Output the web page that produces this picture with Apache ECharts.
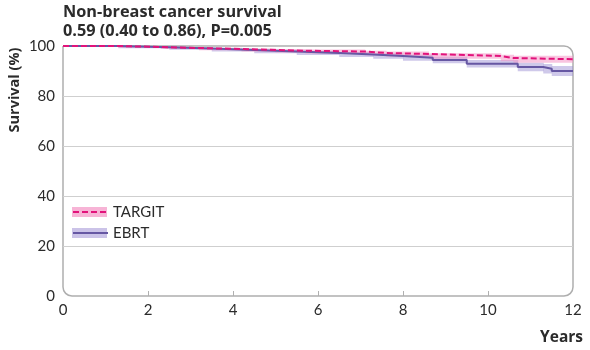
<!DOCTYPE html>
<html>
<head>
<meta charset="utf-8">
<script src="https://cdn.jsdelivr.net/npm/echarts@6/dist/echarts.min.js"></script>
<style>html,body{margin:0;padding:0;background:#fff}#c{width:590px;height:350px}</style>
</head>
<body>
<div id="c"></div>
<script>
// Kaplan-Meier estimates
const targitYears = [0, 1.3, 2.3, 3.2, 4.2, 5.0, 5.7, 7.1, 7.6, 8.6, 10.3, 10.6, 12];
const targitSurv  = [100, 99.6, 99.2, 98.8, 98.4, 98.1, 97.8, 97.2, 96.8, 96.0, 95.2, 94.7, 94.7];
const targitLow   = [100, 99.3, 98.8, 98.3, 97.8, 97.4, 97.0, 96.3, 95.8, 94.9, 93.9, 93.3, 93.3];
const targitHigh  = [100, 99.9, 99.6, 99.3, 99.0, 98.8, 98.6, 98.1, 97.8, 97.1, 96.5, 96.1, 96.1];

const ebrtYears = [0, 1.3, 2.5, 3.5, 4.5, 5.5, 6.5, 7.3, 8.0, 8.7, 9.5, 10.7, 11.3, 11.5, 12];
const ebrtSurv  = [100, 99.5, 99.0, 98.4, 97.8, 97.2, 96.6, 96.0, 95.3, 94.4, 92.9, 91.6, 90.9, 90.0, 90.0];
const ebrtLow   = [100, 99.1, 98.5, 97.8, 97.1, 96.4, 95.6, 94.9, 94.1, 93.1, 91.4, 89.9, 89.0, 88.0, 88.0];
const ebrtHigh  = [100, 99.9, 99.5, 99.0, 98.5, 98.0, 97.6, 97.1, 96.5, 95.7, 94.4, 93.3, 92.8, 92.0, 92.0];

const xTicks = [0, 2, 4, 6, 8, 10, 12];
const yTicks = [0, 20, 40, 60, 80, 100];
const titleLines = ['Non-breast cancer survival', '0.59 (0.40 to 0.86), P=0.005'];
const groupNames = ['TARGIT', 'EBRT'];

const pts = (xs, ys) => xs.map((x, i) => [x, ys[i]]);
// one band cell per KM interval: [start, end, lower, upper]
const cells = (xs, lo, hi) => xs.slice(0, -1).map((x, i) => [x, xs[i + 1], lo[i], hi[i]]);

const G = {left: 63, top: 46, right: 17, bottom: 54};
const W = 590, H = 350;
const FONT = 'Lato';
const BFONT = 'Open Sans';
const TXT = '#2b2b2b';
const PINK = '#e2137b', PINKBAND = 'rgba(244,150,198,0.55)', PINKLEG = '#f7b4d6';
const PURP = '#6657a3', PURPBAND = 'rgba(160,148,214,0.5)', PURPLEG = '#cbc3e8';

function bandItem(color) {
  return function (params, api) {
    const p1 = api.coord([api.value(0), api.value(3)]);
    const p2 = api.coord([api.value(1), api.value(2)]);
    const rect = echarts.graphic.clipRectByRect(
      {x: p1[0], y: p1[1], width: p2[0] - p1[0] + 0.5, height: p2[1] - p1[1]},
      params.coordSys);
    return rect && {type: 'rect', shape: rect, style: {fill: color}};
  };
}

const legendCommon = {
  orient: 'vertical', left: 72, top: 203, padding: 0,
  itemWidth: 35, itemHeight: 10, itemGap: 3, selectedMode: false
};

const chart = echarts.init(document.getElementById('c'), null, {renderer: 'canvas'});
chart.setOption({
  animation: false,
  grid: {left: G.left, top: G.top, right: G.right, bottom: G.bottom},
  xAxis: {
    type: 'value', min: 0, max: 12, interval: 2,
    axisLine: {show: false},
    axisTick: {show: true, inside: true, length: 5, customValues: xTicks.slice(1, -1),
      lineStyle: {color: '#b0b0b0', width: 1}},
    axisLabel: {fontFamily: FONT, fontSize: 15, color: TXT, margin: 7, customValues: xTicks},
    splitLine: {show: false}
  },
  yAxis: {
    type: 'value', min: 0, max: 100, interval: 20,
    axisLine: {show: false}, axisTick: {show: false},
    axisLabel: {fontFamily: FONT, fontSize: 15, color: TXT, margin: 8, customValues: yTicks},
    splitLine: {show: true, lineStyle: {color: '#cfcfcf', width: 1},
      showMinLine: false, showMaxLine: false}
  },
  legend: [
    Object.assign({}, legendCommon, {
      icon: 'rect', z: 1,
      data: [
        {name: 'TARGIT CI', itemStyle: {color: PINKLEG}},
        {name: 'EBRT CI', itemStyle: {color: PURPLEG}}
      ],
      formatter: n => n.replace(' CI', ''),
      textStyle: {fontFamily: FONT, fontSize: 15, lineHeight: 18, color: 'rgba(0,0,0,0)'}
    }),
    Object.assign({}, legendCommon, {
      z: 5,
      itemStyle: {opacity: 0},
      data: groupNames,
      textStyle: {fontFamily: FONT, fontSize: 15, lineHeight: 18, color: TXT}
    })
  ],
  series: [
    {name: 'EBRT CI', type: 'custom', color: PURPLEG, silent: true, z: 1,
      renderItem: bandItem(PURPBAND), data: cells(ebrtYears, ebrtLow, ebrtHigh)},
    {name: 'TARGIT CI', type: 'custom', color: PINKLEG, silent: true, z: 1,
      renderItem: bandItem(PINKBAND), data: cells(targitYears, targitLow, targitHigh)},
    {name: 'EBRT', type: 'line', step: 'end', symbol: 'none', color: PURP,
      data: pts(ebrtYears, ebrtSurv), lineStyle: {color: PURP, width: 2}, z: 3},
    {name: 'TARGIT', type: 'line', step: 'end', symbol: 'none', color: PINK,
      data: pts(targitYears, targitSurv),
      lineStyle: {color: PINK, width: 2, type: [6, 3]}, z: 4}
  ],
  graphic: [
    {type: 'rect', z: -1, silent: true,
      shape: {x: G.left, y: G.top, width: W - G.left - G.right, height: H - G.top - G.bottom, r: [0, 9, 9, 9]},
      style: {fill: 'none', stroke: '#aeaeae', lineWidth: 1.5}},
    {type: 'text', left: 63, top: 3, silent: true,
      style: {text: titleLines.join('\n'), font: 'bold 16.3px "' + BFONT + '"', fill: TXT, lineHeight: 19}},
    {type: 'text', silent: true, x: 7, y: 90, rotation: Math.PI / 2, originX: 0, originY: 0,
      style: {text: 'Survival (%)', font: 'bold 14.5px "' + BFONT + '"', fill: TXT, align: 'center', verticalAlign: 'top'}},
    {type: 'text', silent: true, right: 7, top: 330,
      style: {text: 'Years', font: 'bold 15.5px "' + BFONT + '"', fill: TXT}}
  ]
});
</script>
</body>
</html>
